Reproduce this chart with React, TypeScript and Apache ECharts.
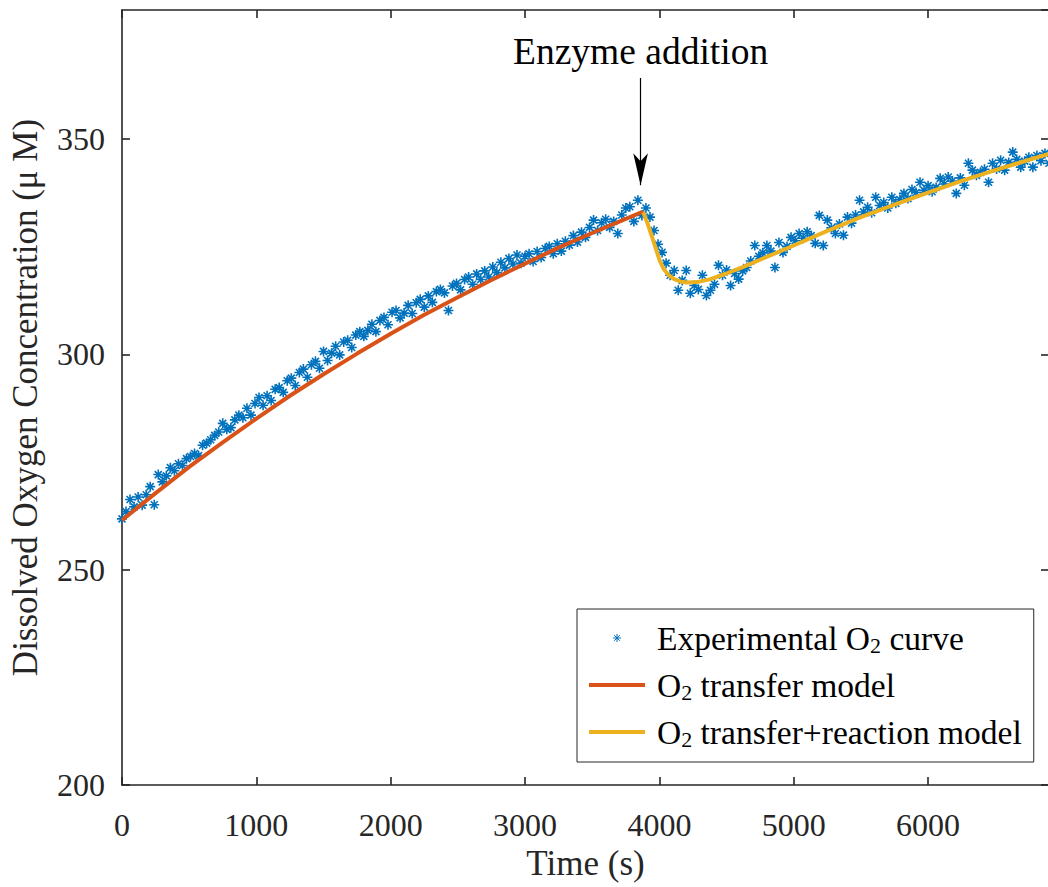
import React, { useEffect, useRef } from 'react';
import * as echarts from 'echarts';

const FONT = "'Liberation Serif', 'Times New Roman', serif";
const AXIS_COLOR = '#262626';

// Experimental samples (µM), one every 30 s
const SAMPLE_STEP = 30;
const PRE_START = 0;
const preValues = [
  261.8, 263.5, 266.3, 264.6, 266.9, 265.0, 267.4, 269.3, 265.1, 272.1,
  270.4, 271.8, 273.7, 273.0, 274.6, 274.2, 275.8, 276.3, 277.0, 276.5,
  278.9, 279.4, 280.2, 281.2, 282.0, 284.0, 282.6, 283.0, 284.8, 285.9,
  285.3, 287.5, 285.9, 288.6, 290.0, 288.2, 290.4, 289.3, 291.9, 292.3,
  291.2, 293.9, 294.5, 292.8, 295.8, 296.6, 294.7, 297.6, 298.4, 296.8,
  300.7, 298.6, 300.3, 301.9, 299.9, 302.9, 303.3, 301.6, 304.5, 305.3,
  304.2, 305.6, 307.0, 305.3, 307.9, 308.6, 306.9, 309.8, 310.2, 308.5,
  309.6, 311.4, 309.5, 312.0, 312.8, 311.0, 313.6, 312.1, 314.6, 315.1,
  314.3, 310.2, 315.9, 316.5, 315.0, 317.4, 318.0, 316.3, 318.7, 317.4,
  319.4, 318.0, 320.3, 319.0, 321.4, 320.1, 322.3, 321.0, 323.1, 321.2,
  322.8, 323.4, 321.6, 323.9, 322.5, 324.6, 325.1, 323.4, 325.7, 324.0,
  326.3, 325.4, 327.6, 326.1, 328.4, 327.2, 329.5, 331.2, 328.8, 330.6,
  331.4, 329.5, 330.9, 328.1, 332.4, 334.0, 334.3, 330.9, 335.8, 332.3,
];
const POST_START = 3900;
const postValues = [
  334.0, 331.9, 328.8, 325.6, 323.7, 321.2, 318.4, 319.5, 314.9, 317.2,
  319.5, 314.2, 316.0, 315.1, 318.4, 313.7, 314.9, 316.3, 320.7, 318.4,
  319.6, 316.0, 318.8, 317.5, 319.4, 320.2, 321.7, 325.3, 322.8, 323.6,
  325.3, 324.0, 320.2, 326.0, 323.7, 325.1, 327.2, 326.4, 328.1, 327.0,
  328.5, 327.6, 325.8, 332.3, 325.3, 331.2, 329.4, 328.1, 330.3, 327.7,
  331.9, 330.5, 332.4, 335.8, 333.1, 334.2, 332.9, 336.5, 334.6, 335.3,
  334.0, 336.5, 335.1, 336.0, 337.4, 336.2, 338.3, 337.6, 340.0, 338.1,
  339.2, 337.8, 338.8, 340.9, 339.6, 341.2, 340.3, 337.4, 341.0, 339.3,
  344.4, 342.8, 341.6, 342.3, 343.0, 340.0, 344.4, 343.1, 345.1, 342.8,
  344.6, 347.0, 345.3, 343.5, 344.9, 345.8, 343.5, 346.2, 345.0, 346.7,
  344.4,
];

// O2 transfer model
const transferTimes = [0, 250, 500, 750, 1000, 1250, 1500, 1750, 2000, 2250, 2500, 2750, 3000, 3250, 3500, 3750, 3880];
const transferValues = [261.5, 267.8, 273.9, 279.6, 285.1, 290.4, 295.4, 300.2, 304.8, 309.2, 313.3, 317.3, 321.1, 324.8, 328.2, 331.5, 333.2];

// O2 transfer + reaction model
const reactionTimes = [3880, 3910, 3940, 3970, 4000, 4030, 4070, 4110, 4160, 4210, 4280, 4380, 4500, 4620, 4750, 5000, 5250, 5500, 5750, 6000, 6250, 6500, 6750, 6900];
const reactionValues = [333.0, 330.6, 327.8, 324.9, 322.0, 319.9, 318.4, 317.5, 316.9, 316.7, 316.8, 317.5, 318.8, 320.3, 322.0, 325.3, 328.7, 331.9, 334.8, 337.6, 340.3, 342.8, 345.2, 346.6];

// Annotation
const enzymeTime = 3860;
const arrowFrom = 364.2;
const arrowTo = 339.3;

const X_MIN = 0, X_MAX = 6900, X_STEP = 1000;
const Y_MIN = 200, Y_MAX = 380, Y_STEP = 50;

const NAMES = ['Experimental O2 curve', 'O2 transfer model', 'O2 transfer+reaction model'];
const ASTERISK = 'path://M5,0L5,10M0,5L10,5M1.5,1.5L8.5,8.5M1.5,8.5L8.5,1.5';
const LINE_ICON = 'path://M0,0L56,0L56,4L0,4Z';

export default function App() {
  const ref = useRef<HTMLDivElement>(null);
  useEffect(() => {
    const chart = echarts.init(ref.current!, null, { renderer: 'svg' });
    const expData: number[][] = [];
    preValues.forEach((v, i) => expData.push([PRE_START + i * SAMPLE_STEP, v]));
    postValues.forEach((v, i) => expData.push([POST_START + i * SAMPLE_STEP, v]));
    const transferData = transferTimes.map((t, i) => [t, transferValues[i]]);
    const reactionData = reactionTimes.map((t, i) => [t, reactionValues[i]]);

    const axisLine = { show: true, onZero: false, lineStyle: { color: AXIS_COLOR, width: 1.6 } };
    const axisTick = { show: true, inside: true, length: 8, lineStyle: { color: AXIS_COLOR, width: 1.6 } };
    const tickStyle = { fontFamily: FONT, fontSize: 32, color: AXIS_COLOR };
    const nameStyle = { fontFamily: FONT, fontSize: 35, color: AXIS_COLOR };

    const option: any = {
      animation: false,
      backgroundColor: '#ffffff',
      grid: { left: 122, top: 10, width: 927, height: 775, outerBoundsMode: 'none', containLabel: false },
      xAxis: [
        {
          type: 'value', min: X_MIN, max: X_MAX, interval: X_STEP, position: 'bottom',
          axisLine, axisTick, splitLine: { show: false },
          axisLabel: { ...tickStyle, margin: 24, showMaxLabel: false, formatter: (v: number) => String(v) },
          name: 'Time (s)', nameLocation: 'middle', nameGap: 56,
          nameTextStyle: { ...nameStyle },
        },
        {
          type: 'value', min: X_MIN, max: X_MAX, interval: X_STEP, position: 'top',
          axisLine, axisTick, splitLine: { show: false }, axisLabel: { show: false },
        },
      ],
      yAxis: [
        {
          type: 'value', min: Y_MIN, max: Y_MAX, interval: Y_STEP, position: 'left',
          axisLine, axisTick, splitLine: { show: false },
          axisLabel: { ...tickStyle, margin: 17, showMaxLabel: false, formatter: (v: number) => String(v) },
          name: 'Dissolved Oxygen Concentration (\u03bc M)', nameLocation: 'middle', nameGap: 79,
          nameTextStyle: { ...nameStyle },
        },
        {
          type: 'value', min: Y_MIN, max: Y_MAX, interval: Y_STEP, position: 'right',
          axisLine, axisTick, splitLine: { show: false }, axisLabel: { show: false },
        },
      ],
      legend: {
        orient: 'vertical', left: 577, top: 609,
        padding: [11, 12, 12, 12], itemGap: 11, itemWidth: 56, itemHeight: 8,
        backgroundColor: '#ffffff', borderColor: AXIS_COLOR, borderWidth: 1, borderRadius: 0,
        selectedMode: false,
        formatter: (name: string) => name.replace('O2', 'O{s|2}'),
        textStyle: {
          fontFamily: FONT, fontSize: 33.5, color: '#000', lineHeight: 36, padding: [0, 0, 0, 7],
          rich: { s: { fontFamily: FONT, fontSize: 22, color: '#000', verticalAlign: 'bottom', lineHeight: 30 } },
        },
        data: [
          { name: NAMES[0], itemStyle: { borderWidth: 1 } },
          { name: NAMES[1], icon: LINE_ICON, itemStyle: { color: '#D95319', borderWidth: 0 } },
          { name: NAMES[2], icon: LINE_ICON, itemStyle: { color: '#EDB120', borderWidth: 0 } },
        ],
      },
      series: [
        {
          name: NAMES[0], type: 'scatter', data: expData,
          symbol: ASTERISK, symbolSize: 10,
          itemStyle: { color: '#0072BD', borderColor: '#0072BD', borderWidth: 1.6, opacity: 1 },
          z: 2,
          markLine: {
            silent: true, animation: false,
            symbol: ['none', 'arrow'],
            lineStyle: { color: '#000', width: 1.2, type: 'solid' },
            label: {
              show: true, position: 'start', distance: 8, formatter: 'Enzyme addition',
              fontFamily: FONT, fontSize: 37.5, color: '#000',
            },
            emphasis: { disabled: true },
            data: [[
              { coord: [enzymeTime, arrowFrom], symbol: 'none' },
              { coord: [enzymeTime, arrowTo], symbol: 'arrow', symbolSize: [11, 32] },
            ]],
          },
        },
        {
          name: NAMES[1], type: 'line', data: transferData, symbol: 'none', showSymbol: false,
          smooth: false,
          lineStyle: { color: '#D95319', width: 4 }, itemStyle: { color: '#D95319' }, z: 3,
        },
        {
          name: NAMES[2], type: 'line', data: reactionData, symbol: 'none', showSymbol: false,
          smooth: false,
          lineStyle: { color: '#EDB120', width: 4 }, itemStyle: { color: '#EDB120' }, z: 3,
        },
      ],
    };
    chart.setOption(option);
    return () => chart.dispose();
  }, []);
  return <div ref={ref} style={{ position: 'absolute', left: 0, top: 0, width: 1048, height: 887 }} />;
}
